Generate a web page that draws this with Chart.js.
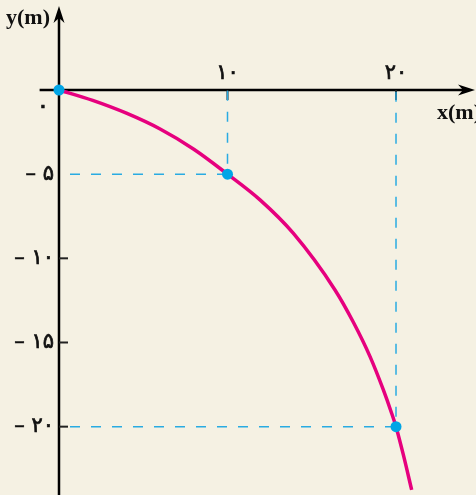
<!DOCTYPE html>
<html lang="fa">
<head>
    <meta charset="UTF-8">
    <title>y(m) - x(m)</title>
    <style>
        html, body { margin: 0; padding: 0; background: #f5f1e3; }
        #chart { display: block; }
    </style>
</head>
<body>
    <canvas id="chart" width="476" height="495"></canvas>

    <script src="https://cdn.jsdelivr.net/npm/chart.js"></script>
    <script>
        // curve (metres)
        const curveX = [0, 2, 4, 6, 8, 10, 11.93, 13.9, 16.38, 17.47, 18.46, 19.25, 19.74, 20, 20.43, 20.93];
        const curveY = [0, -0.62, -1.38, -2.32, -3.52, -5, -6.53, -8.51, -11.88, -13.8, -15.84, -17.82, -19.2, -20, -21.65, -23.76];

        // marked points
        const markX = [0, 10, 20];
        const markY = [0, -5, -20];

        // tick labels
        const xTicks = [10, 20];
        const xTickLabels = ['۱۰', '۲۰'];
        const yTicks = [-5, -10, -15, -20];
        const yTickLabels = ['– ۵', '– ۱۰', '– ۱۵', '– ۲۰'];
        const yTickMarks = [-10, -15, -20];

        const toPts = (xs, ys) => xs.map((v, i) => ({ x: v, y: ys[i] }));

        // dashed guides from the marked points back to the axes
        const guides = markX.slice(1).map((mx, i) => {
            const my = markY[i + 1];
            return {
                data: [{ x: 0, y: my }, { x: mx, y: my }, { x: mx, y: 0 }],
                showLine: true,
                borderColor: '#29abe2',
                borderWidth: 1.5,
                borderDash: [10, 11],
                borderDashOffset: 10,
                pointRadius: 0,
                fill: false
            };
        });

        const bgPlugin = {
            id: 'bg',
            beforeDraw(chart) {
                const ctx = chart.ctx;
                ctx.save();
                ctx.fillStyle = '#f5f1e3';
                ctx.fillRect(0, 0, chart.width, chart.height);
                ctx.restore();
            }
        };

        // text with a slight stroke so it reads a bit heavier than regular
        function label(ctx, txt, x, y) {
            ctx.fillText(txt, x, y);
            ctx.strokeText(txt, x, y);
        }

        const axesPlugin = {
            id: 'axes',
            beforeDatasetsDraw(chart) {
                const ctx = chart.ctx;
                const xs = chart.scales.x, ys = chart.scales.y;
                const a = chart.chartArea;
                const ox = xs.getPixelForValue(0), oy = ys.getPixelForValue(0);

                ctx.save();
                ctx.strokeStyle = '#000';
                ctx.fillStyle = '#000';
                ctx.lineWidth = 2.5;

                // x axis + arrow
                const xTip = a.right - 1;
                ctx.beginPath();
                ctx.moveTo(xs.getPixelForValue(-1.15), oy);
                ctx.lineTo(xTip - 8, oy);
                ctx.stroke();
                ctx.beginPath();
                ctx.moveTo(xTip, oy);
                ctx.lineTo(xTip - 17, oy - 5.5);
                ctx.lineTo(xTip - 12, oy);
                ctx.lineTo(xTip - 17, oy + 5.5);
                ctx.closePath();
                ctx.fill();

                // y axis + arrow
                const yTip = a.top + 6;
                ctx.beginPath();
                ctx.moveTo(ox, a.bottom);
                ctx.lineTo(ox, yTip + 8);
                ctx.stroke();
                ctx.beginPath();
                ctx.moveTo(ox, yTip);
                ctx.lineTo(ox - 5.5, yTip + 17);
                ctx.lineTo(ox, yTip + 12);
                ctx.lineTo(ox + 5.5, yTip + 17);
                ctx.closePath();
                ctx.fill();

                // tick marks
                ctx.strokeStyle = '#222';
                ctx.lineWidth = 2;
                xTicks.forEach(v => {
                    const px = xs.getPixelForValue(v);
                    ctx.beginPath();
                    ctx.moveTo(px, oy);
                    ctx.lineTo(px, oy + 10);
                    ctx.stroke();
                });
                yTickMarks.forEach(v => {
                    const py = ys.getPixelForValue(v);
                    ctx.beginPath();
                    ctx.moveTo(ox, py);
                    ctx.lineTo(ox + 9, py);
                    ctx.stroke();
                });

                // tick labels
                ctx.fillStyle = '#111';
                ctx.strokeStyle = '#111';
                ctx.lineWidth = 0.7;
                ctx.font = '21px "DejaVu Sans"';
                ctx.textBaseline = 'middle';
                ctx.textAlign = 'center';
                xTicks.forEach((v, i) => {
                    label(ctx, xTickLabels[i], xs.getPixelForValue(v), oy - 16);
                });
                ctx.textAlign = 'right';
                yTicks.forEach((v, i) => {
                    label(ctx, yTickLabels[i], ox - 5, ys.getPixelForValue(v));
                });
                ctx.font = '24px "DejaVu Sans"';
                ctx.textAlign = 'center';
                label(ctx, '۰', ox - 16, oy + 17);

                // axis titles
                ctx.font = 'bold 22px "Liberation Serif"';
                ctx.textBaseline = 'alphabetic';
                ctx.textAlign = 'left';
                ctx.fillText('y(m)', 6, 24);
                ctx.fillText('x(m)', 437, 119);

                ctx.restore();
            }
        };

        new Chart(document.getElementById('chart'), {
            type: 'scatter',
            data: {
                datasets: [
                    {
                        data: toPts(markX, markY),
                        pointRadius: 5.5,
                        pointBackgroundColor: '#00a5e6',
                        pointBorderWidth: 0,
                        showLine: false
                    },
                    {
                        data: toPts(curveX, curveY),
                        showLine: true,
                        borderColor: '#e6007e',
                        borderWidth: 3.5,
                        cubicInterpolationMode: 'monotone',
                        pointRadius: 0,
                        fill: false
                    },
                    ...guides
                ]
            },
            options: {
                responsive: false,
                animation: false,
                devicePixelRatio: 1,
                layout: { padding: 0, autoPadding: false },
                plugins: {
                    legend: { display: false },
                    tooltip: { enabled: false }
                },
                scales: {
                    x: { type: 'linear', min: -3.501, max: 24.747, display: false },
                    y: { type: 'linear', min: -24.06, max: 5.346, display: false }
                }
            },
            plugins: [bgPlugin, axesPlugin]
        });
    </script>
</body>
</html>
